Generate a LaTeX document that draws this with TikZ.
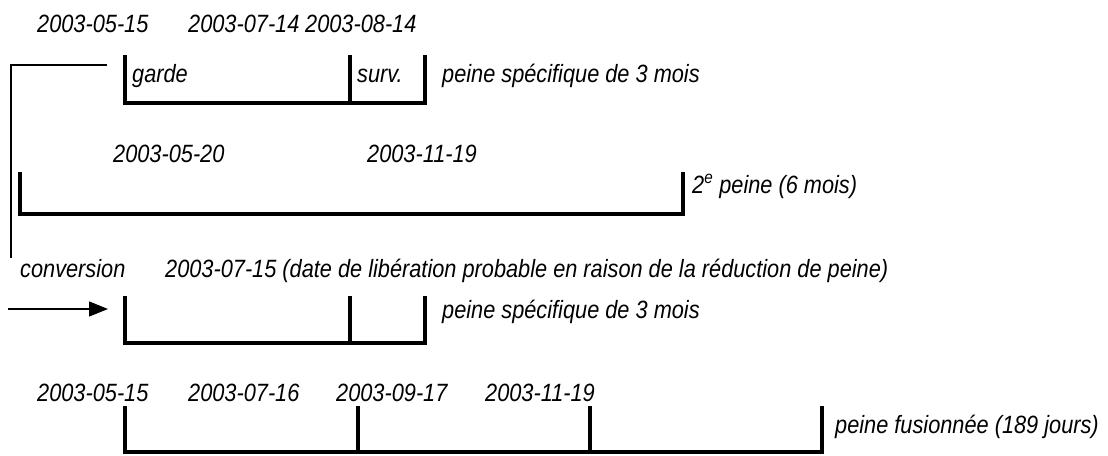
\documentclass[tikz,border=0pt]{standalone}
\usepackage{fontspec}
\setmainfont[FakeStretch=0.87]{Liberation Sans}
\usetikzlibrary{arrows.meta}
\tikzset{
  lbl/.style={anchor=base west, inner sep=0pt, font=\fontsize{25}{28}\selectfont\itshape},
  bar/.style={line width=3.8pt, line cap=rect},
  conn/.style={line width=1.4pt},
}
\begin{document}
\begin{tikzpicture}[x=1pt,y=-1pt]
\useasboundingbox[fill=white] (0,0) rectangle (1108,455);
% ---- row 1
\node[lbl] (d11) at (37,32) {2003-05-15};
\node[lbl] (d12) at (188,32) {2003-07-14};
\node[lbl] (d13) at (305,32) {2003-08-14};
\coordinate (a1) at (125,57); \coordinate (a2) at (125,103);
\coordinate (a3) at (425,103); \coordinate (a4) at (425,57);
\coordinate (a5) at (350,57); \coordinate (a6) at (350,103);
\draw[bar] (a1) -- (a2) -- (a3) -- (a4);
\draw[bar] (a5) -- (a6);
\node[lbl] (garde) at (132,82) {garde};
\node[lbl] (surv) at (357,82) {surv.};
\node[lbl] (p1) at (442,82) {peine spécifique de 3 mois};
% ---- connector
\coordinate (c1) at (107,65);
\coordinate (c2) at (11,65);
\coordinate (c3) at (11,258);
\draw[conn] (c1) -- (c2) -- (c3);
% ---- row 2
\node[lbl] (d21) at (113,162) {2003-05-20};
\node[lbl] (d22) at (367,162) {2003-11-19};
\coordinate (b1) at (20,174); \coordinate (b2) at (20,214);
\coordinate (b3) at (683,214); \coordinate (b4) at (683,174);
\draw[bar] (b1) -- (b2) -- (b3) -- (b4);
\node[lbl] (p2) at (692,193) {2\textsuperscript{e} peine (6 mois)};
% ---- row 3
\node[lbl] (conv) at (20,277) {conversion};
\node[lbl] (lib) at (165,277) {2003-07-15 (date de libération probable en raison de la réduction de peine)};
\coordinate (e1) at (8,309); \coordinate (e2) at (108,309);
\draw[conn,-{Triangle[length=19pt,width=15pt]}] (e1) -- (e2);
\coordinate (f1) at (125,298); \coordinate (f2) at (125,343);
\coordinate (f3) at (425,343); \coordinate (f4) at (425,298);
\coordinate (f5) at (350,298); \coordinate (f6) at (350,343);
\draw[bar] (f1) -- (f2) -- (f3) -- (f4);
\draw[bar] (f5) -- (f6);
\node[lbl] (p3) at (442,318) {peine spécifique de 3 mois};
% ---- row 4
\node[lbl] (d41) at (37,401) {2003-05-15};
\node[lbl] (d42) at (188,401) {2003-07-16};
\node[lbl] (d43) at (336,401) {2003-09-17};
\node[lbl] (d44) at (485,401) {2003-11-19};
\coordinate (g1) at (125,408); \coordinate (g2) at (125,452);
\coordinate (g3) at (822,452); \coordinate (g4) at (822,408);
\coordinate (g5) at (358,408); \coordinate (g6) at (358,452);
\coordinate (g7) at (590,408); \coordinate (g8) at (590,452);
\draw[bar] (g1) -- (g2) -- (g3) -- (g4);
\draw[bar] (g5) -- (g6);
\draw[bar] (g7) -- (g8);
\node[lbl] (p4) at (835,433) {peine fusionnée (189 jours)};
\end{tikzpicture}
\end{document}
